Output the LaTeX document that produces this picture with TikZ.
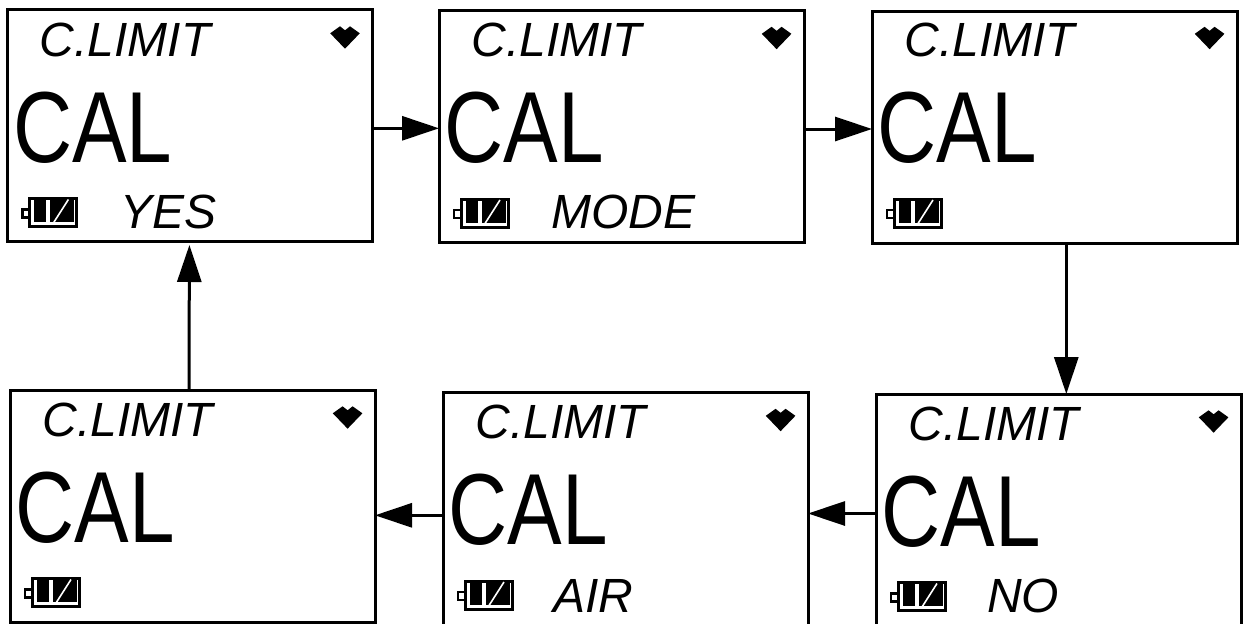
\documentclass[tikz,border=0pt]{standalone}
\usepackage{fontspec}
\usepackage{graphicx}
\setmainfont{Liberation Sans}
\usetikzlibrary{arrows.meta,calc}
\tikzset{
  screenbox/.style={draw=black,line width=3pt,minimum width=365pt,minimum height=232pt,inner sep=0pt,outer sep=0pt,rectangle},
  small/.style={anchor=base west,inner sep=0pt,font=\fontsize{48}{48}\selectfont\itshape},
  big/.style={anchor=base west,inner sep=0pt,font=\fontsize{101}{101}\selectfont},
  flow/.style={line width=3pt,-{Triangle[length=37pt,width=24pt]}},
}
\newcommand{\screenpanel}[7][]{%
  % #2 name, #3 x left, #4 box top, #5 content top, #6 bottom text, #7 text offset
  \node[screenbox,anchor=north west,#1] (#2) at (#3,#4) {};
  \begin{scope}[shift={(#3,#5)}]
    \node[small] (#2title) at (32.2,46.6) {C.LIMIT};
    \node[big] (#2cal) at (5.6,152.8) {\scalebox{0.81}[1]{CAL}};
    \node[small] (#2text) at (#7,218.8) {#6};
    \fill (322.8,23.8) -- (332.6,16.8) -- (337.6,20.8) -- (342.6,16.8) -- (352.4,23.8) -- (337.6,39.2) -- cycle;
    \draw[line width=3pt] (22,189) rectangle (69,217);
    \draw[line width=2.5pt] (15,200) rectangle (22,208);
    \fill (26.6,190) rectangle (38.6,212.5);
    \fill (42.6,190) rectangle (66.6,212.5);
    \draw[white,line width=1.6pt] (46,213.5) -- (61,190);
  \end{scope}
}
\begin{document}
\begin{tikzpicture}[x=1pt,y=-1pt]
\useasboundingbox (0,0) rectangle (1243,624);
\clip (0,0) rectangle (1243,624);
\screenpanel{a}{7.4}{9.5}{9.5}{YES}{112.6}
\screenpanel{b}{439}{10}{10}{MODE}{112}
\screenpanel{c}{872}{11.3}{10}{\phantom{X}}{112}
\screenpanel{d}{876}{394}{393.5}{NO}{111}
\screenpanel[minimum height=236pt]{e}{443}{392}{392}{\raisebox{-1.5pt}{AIR}}{110}
\screenpanel{f}{10}{390.7}{389.5}{\phantom{X}}{112}
\draw[flow] ([yshift=-2.8pt]a.east) -- ([yshift=-2.3pt]b.west);
\draw[flow] ([yshift=-3pt]b.east) -- ([yshift=-1.7pt]c.west);
\draw[flow] ([xshift=11.8pt]c.south) -- ([xshift=7.8pt]d.north);
\draw[flow] ([yshift=-3.5pt]d.west) -- ([yshift=-3.5pt]e.east);
\draw[flow] ([yshift=-5.3pt]e.west) -- ([yshift=-8.6pt]f.east);
\draw[flow] ([xshift=-3.5pt]f.north) -- ([xshift=-0.5pt,yshift=-3.5pt]a.south);
\end{tikzpicture}
\end{document}
